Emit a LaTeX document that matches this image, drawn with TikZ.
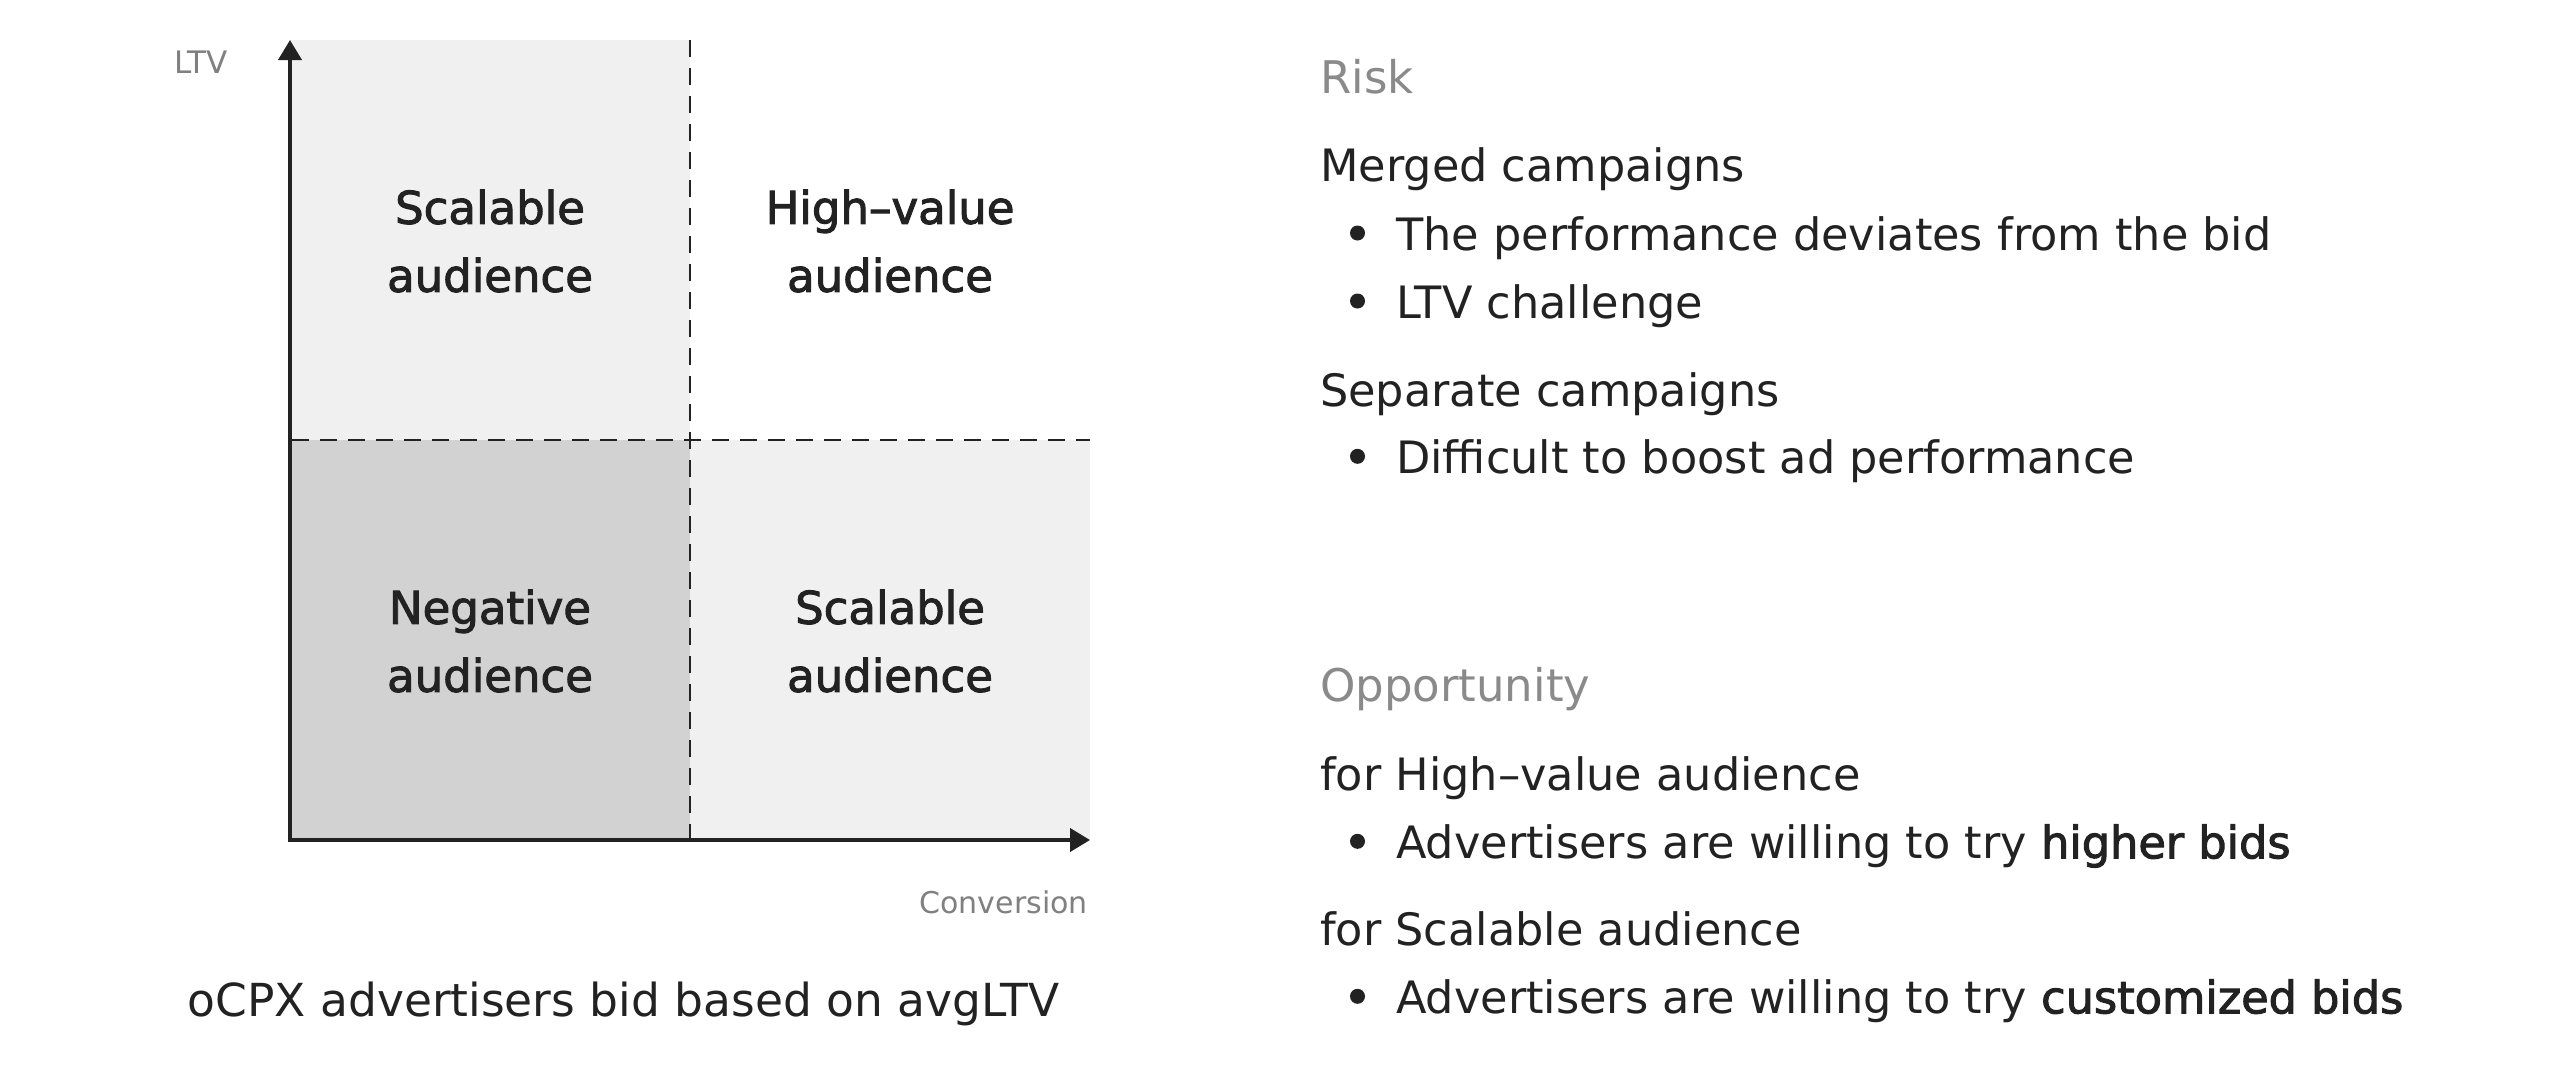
\documentclass[tikz,border=0pt]{standalone}
\usepackage{fontspec}
\setmainfont{DejaVu Sans}
\newfontface\medfont{DejaVu Sans}[FakeBold=2.2]
\usetikzlibrary{arrows.meta}
\definecolor{ink}{HTML}{222222}
\definecolor{muted}{HTML}{8A8A8A}
\definecolor{axislabel}{HTML}{808080}
\definecolor{lightq}{HTML}{F0F0F0}
\definecolor{darkq}{HTML}{D2D2D2}
\begin{document}
\begin{tikzpicture}[x=1pt,y=-1pt,
  qlabel/.style={align=center,inner sep=0pt,text=ink,font=\medfont\fontsize{45}{68}\selectfont},
  axisline/.style={line width=4pt,draw=ink,line join=miter},
  gridline/.style={line width=2.2pt,draw=ink,dash pattern=on 17pt off 11pt},
  axlabel/.style={inner sep=0pt,text=axislabel},
  headtext/.style={anchor=base west,inner sep=0pt,text=muted,font=\fontsize{45}{54}\selectfont},
  bodytext/.style={anchor=base west,inner sep=0pt,text=ink,font=\fontsize{44.6}{53}\selectfont},
  bulletdot/.style={circle,fill=ink,inner sep=0pt,minimum size=15pt},
  captiontext/.style={anchor=base west,inner sep=0pt,text=ink,font=\fontsize{45.5}{54}\selectfont}
]
\useasboundingbox[fill=white] (0,0) rectangle (2560,1072);
% quadrant fills
\fill[lightq] (290,40) rectangle (690,440);
\fill[darkq] (290,440) rectangle (690,840);
\fill[lightq] (690,440) rectangle (1090,840);
% key points
\coordinate (O) at (290,840);
\coordinate (ytip) at (290,40);
\coordinate (xtip) at (1090,840);
\coordinate (vtop) at (690,40);
\coordinate (vbot) at (690,840);
\coordinate (hleft) at (292,440);
\coordinate (hright) at (1090,440);
% dashed dividers
\draw[gridline] (vtop) -- (vbot);
\draw[gridline] (hleft) -- (hright);
% axes
\draw[axisline,{Triangle[length=20pt,width=23pt]}-{Triangle[length=20pt,width=23pt]}] (ytip) -- (O) -- (xtip);
% axis labels
\node[axlabel,anchor=base west,font=\fontsize{31}{36}\selectfont] (ltv) at (174,73.3) {LTV};
\node[axlabel,anchor=base east,font=\fontsize{30}{36}\selectfont] (conv) at (1088,913) {Conversion};
% quadrant labels
\node[qlabel] (q1) at (490,241) {Scalable\\audience};
\node[qlabel] (q2) at (890,241) {High–value\\audience};
\node[qlabel] (q3) at (490,641) {Negative\\audience};
\node[qlabel] (q4) at (890,641) {Scalable\\audience};
% caption
\node[captiontext] (cap) at (187.5,1016) {oCPX advertisers bid based on avgLTV};
% right side: Risk
\node[headtext] (risk) at (1320,93.3) {Risk};
\node[bodytext] (merged) at (1320,181.7) {Merged campaigns};
\node[bulletdot] (b1) at (1357.5,233) {};
\node[bodytext] (r1) at (1396,250) {The performance deviates from the bid};
\node[bulletdot] (b2) at (1357.5,301) {};
\node[bodytext] (r2) at (1396,318) {LTV challenge};
\node[bodytext] (separate) at (1320,406.7) {Separate campaigns};
\node[bulletdot] (b3) at (1357.5,456.3) {};
\node[bodytext] (r3) at (1396,473.3) {Difficult to boost ad performance};
% right side: Opportunity
\node[headtext] (opp) at (1320,701.7) {Opportunity};
\node[bodytext] (forhv) at (1320,790) {for High–value audience};
\node[bulletdot] (b4) at (1357.5,841.3) {};
\node[bodytext] (o1) at (1396,858.3) {Advertisers are willing to try {\medfont higher bids}};
\node[bodytext] (forsc) at (1320,945) {for Scalable audience};
\node[bulletdot] (b5) at (1357.5,996.3) {};
\node[bodytext] (o2) at (1396,1013.3) {Advertisers are willing to try {\medfont customized bids}};
\end{tikzpicture}
\end{document}
